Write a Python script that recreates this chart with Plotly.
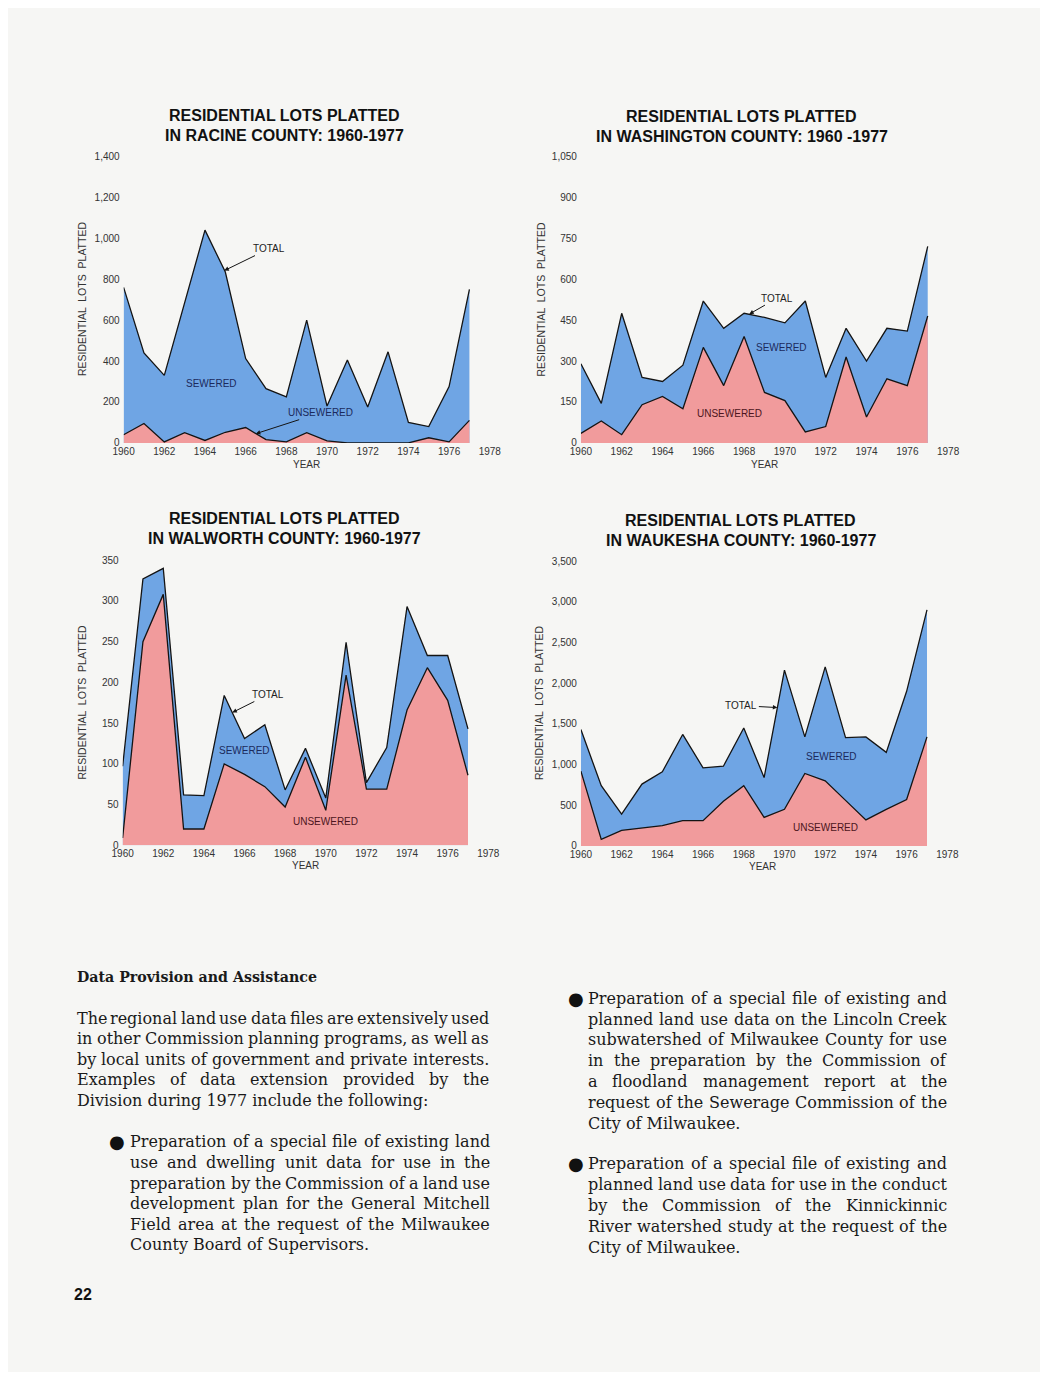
import glob
import os
import struct

import plotly.graph_objects as go

# ---------------- DATA ----------------
years = list(range(1960, 1978))
x_ticks = list(range(1960, 1979, 2))

racine_total = [760, 440, 330, 690, 1040, 835, 412, 265, 225, 600, 180, 405, 175, 445, 100, 80, 275, 750]
racine_unsewered = [40, 95, 5, 50, 12, 52, 75, 16, 5, 50, 10, 0, 0, 0, 0, 25, 5, 110]

washington_total = [290, 145, 475, 240, 225, 285, 520, 420, 475, 460, 440, 520, 240, 420, 300, 420, 410, 720]
washington_unsewered = [35, 80, 30, 140, 170, 125, 350, 210, 390, 185, 155, 40, 60, 315, 95, 235, 210, 465]

walworth_total = [97, 327, 340, 62, 61, 184, 131, 148, 68, 119, 58, 249, 77, 120, 293, 233, 233, 143]
walworth_unsewered = [9, 250, 308, 20, 20, 100, 87, 72, 47, 108, 43, 209, 69, 69, 166, 218, 178, 86]

waukesha_total = [1430, 740, 390, 760, 910, 1370, 960, 980, 1450, 840, 2160, 1340, 2200, 1330, 1340, 1150, 1900, 2900]
waukesha_unsewered = [920, 80, 190, 220, 250, 310, 310, 550, 740, 350, 450, 890, 800, 560, 320, 450, 570, 1340]

heading = "Data Provision and Assistance"
para_intro = [
    "The regional land use data files are extensively used",
    "in other Commission planning programs, as well as",
    "by local units of government and private interests.",
    "Examples of data extension provided by the",
    "Division during 1977 include the following:",
]
bullet_mitchell = [
    "Preparation of a special file of existing land",
    "use and dwelling unit data for use in the",
    "preparation by the Commission of a land use",
    "development plan for the General Mitchell",
    "Field area at the request of the Milwaukee",
    "County Board of Supervisors.",
]
bullet_lincoln = [
    "Preparation of a special file of existing and",
    "planned land use data on the Lincoln Creek",
    "subwatershed of Milwaukee County for use",
    "in the preparation by the Commission of",
    "a floodland management report at the",
    "request of the Sewerage Commission of the",
    "City of Milwaukee.",
]
bullet_kinnickinnic = [
    "Preparation of a special file of existing and",
    "planned land use data for use in the conduct",
    "by the Commission of the Kinnickinnic",
    "River watershed study at the request of the",
    "City of Milwaukee.",
]
page_number = "22"

# ---------------- PAGE GEOMETRY ----------------
# the page body has an 8px default margin; size the figure so the page is exactly 1048x1380
OFF = 8
FIG_W, FIG_H = 1048 - 2 * OFF, 1380 - 2 * OFF
BG = "#f6f6f4"
BLUE = "#6fa5e4"
PINK = "#f19b9c"
LINE = "#141414"
NAVY = "#1b2a5c"
DARKRED = "#4d1520"
SANS = "Liberation Sans, Arial, sans-serif"
SERIF = "DejaVu Serif, serif"


def fx(px):
    return (px - OFF) / FIG_W


def fy(py):
    return 1 - (py - OFF) / FIG_H


panels = [
    dict(total=racine_total, unsew=racine_unsewered, county="RACINE", dash="1960-1977",
         ymax=1400, dtick=200, x0=115, x1=489.5, ytop=151.7, ybot=440.7,
         tcx=280, t1=110, t2=131, ytx=73, yty=296, yrx=302, yry=462,
         total_tip=(1964.95, 842), total_off=(45, -22),
         sew=(1964.3, 290), unsew_lab=(1966.5, 45, 65, -21, NAVY)),
    dict(total=washington_total, unsew=washington_unsewered, county="WASHINGTON", dash="1960 -1977",
         ymax=1050, dtick=150, x0=582.7, x1=958.3, ytop=151.7, ybot=440.7,
         tcx=747, t1=111, t2=132, ytx=542, yty=296, yrx=770, yry=462,
         total_tip=(1968.25, 472), total_off=(28, -16),
         sew=(1969.85, 350), unsew_lab=(1967.3, 108, None, None, DARKRED)),
    dict(total=walworth_total, unsew=walworth_unsewered, county="WALWORTH", dash="1960-1977",
         ymax=350, dtick=50, x0=114, x1=488, ytop=559, ybot=846.7,
         tcx=280, t1=517, t2=537, ytx=72, yty=703, yrx=301, yry=867,
         total_tip=(1965.4, 163), total_off=(36, -18),
         sew=(1966.0, 116), unsew_lab=(1970.0, 29, None, None, DARKRED)),
    dict(total=waukesha_total, unsew=waukesha_unsewered, county="WAUKESHA", dash="1960-1977",
         ymax=3500, dtick=500, x0=582.7, x1=957.5, ytop=560, ybot=847.3,
         tcx=746, t1=519, t2=539, ytx=540, yty=703, yrx=768, yry=868,
         total_tip=(1969.65, 1700), total_off=(-36, -2),
         sew=(1972.3, 1100), unsew_lab=(1972.0, 223, None, None, DARKRED)),
]

fig = go.Figure()
layout = dict(
    width=FIG_W, height=FIG_H, margin=dict(l=0, r=0, t=0, b=0),
    paper_bgcolor=BG, plot_bgcolor="rgba(0,0,0,0)", showlegend=False,
)
annotations = []

for i, p in enumerate(panels, start=1):
    sfx = "" if i == 1 else str(i)
    xr, yr = "x" + sfx, "y" + sfx
    fig.add_trace(go.Scatter(x=years, y=p["total"], xaxis=xr, yaxis=yr, mode="lines",
                             fill="tozeroy", fillcolor=BLUE,
                             line=dict(color=LINE, width=1.3), hoverinfo="skip"))
    fig.add_trace(go.Scatter(x=years, y=p["unsew"], xaxis=xr, yaxis=yr, mode="lines",
                             fill="tozeroy", fillcolor=PINK,
                             line=dict(color=LINE, width=1.3), hoverinfo="skip"))
    layout["xaxis" + sfx] = dict(
        domain=[fx(p["x0"]), fx(p["x1"])], range=[1960, 1978], anchor=yr,
        tickmode="array", tickvals=x_ticks, ticktext=[str(t) for t in x_ticks],
        showgrid=False, zeroline=False, showline=False, ticks="", ticklabelstandoff=1,
        tickfont=dict(family=SANS, size=10, color="#333"), fixedrange=True)
    layout["yaxis" + sfx] = dict(
        domain=[fy(p["ybot"]), fy(p["ytop"])], range=[0, p["ymax"]], anchor=xr,
        tickmode="linear", tick0=0, dtick=p["dtick"], tickformat=",",
        showgrid=False, zeroline=False, showline=False, ticks="", ticklabelstandoff=3,
        tickfont=dict(family=SANS, size=10, color="#333"), fixedrange=True)

    annotations.append(dict(x=fx(p["tcx"]), y=fy(p["t1"]), xref="paper", yref="paper",
                            text="<b>RESIDENTIAL LOTS PLATTED</b>", showarrow=False,
                            font=dict(family=SANS, size=16, color="#111"),
                            xanchor="center", yanchor="middle"))
    annotations.append(dict(x=fx(p["tcx"]), y=fy(p["t2"]), xref="paper", yref="paper",
                            text="<b>IN %s COUNTY: %s</b>" % (p["county"], p["dash"]),
                            showarrow=False, font=dict(family=SANS, size=16, color="#111"),
                            xanchor="center", yanchor="middle"))
    annotations.append(dict(x=fx(p["ytx"]), y=fy(p["yty"]), xref="paper", yref="paper",
                            text="RESIDENTIAL  LOTS  PLATTED", textangle=-90, showarrow=False,
                            font=dict(family=SANS, size=10.5, color="#333"),
                            xanchor="center", yanchor="middle"))
    annotations.append(dict(x=fx(p["yrx"]), y=fy(p["yry"]), xref="paper", yref="paper",
                            text="YEAR", showarrow=False,
                            font=dict(family=SANS, size=10, color="#333"),
                            xanchor="center", yanchor="middle"))
    tx, ty = p["total_tip"]
    ax, ay = p["total_off"]
    annotations.append(dict(x=tx, y=ty, xref=xr, yref=yr, text="TOTAL", showarrow=True,
                            ax=ax, ay=ay, arrowhead=2, arrowsize=0.9, arrowwidth=1,
                            arrowcolor=LINE, font=dict(family=SANS, size=10, color="#222")))
    sx, sy = p["sew"]
    annotations.append(dict(x=sx, y=sy, xref=xr, yref=yr, text="SEWERED", showarrow=False,
                            font=dict(family=SANS, size=10, color=NAVY)))
    ux, uy, uax, uay, ucol = p["unsew_lab"]
    if uax is None:
        annotations.append(dict(x=ux, y=uy, xref=xr, yref=yr, text="UNSEWERED", showarrow=False,
                                font=dict(family=SANS, size=10, color=ucol)))
    else:
        annotations.append(dict(x=ux, y=uy, xref=xr, yref=yr, text="UNSEWERED", showarrow=True,
                                ax=uax, ay=uay, arrowhead=2, arrowsize=0.9, arrowwidth=1,
                                arrowcolor=LINE, font=dict(family=SANS, size=10, color=ucol)))


# ---------------- FONT METRICS (for justified body text) ----------------
FALLBACK = {' ': 318, 'a': 596, 'b': 640, 'c': 560, 'd': 640, 'e': 592, 'f': 370, 'g': 640, 'h': 644,
            'i': 320, 'j': 310, 'k': 606, 'l': 320, 'm': 948, 'n': 644, 'o': 602, 'p': 640, 'q': 640,
            'r': 478, 's': 513, 't': 402, 'u': 644, 'v': 565, 'w': 856, 'x': 564, 'y': 565, 'z': 527,
            'A': 722, 'B': 735, 'C': 765, 'D': 802, 'E': 730, 'F': 694, 'G': 799, 'H': 872, 'I': 395,
            'J': 401, 'K': 747, 'L': 664, 'M': 1024, 'N': 875, 'O': 820, 'P': 673, 'Q': 820, 'R': 753,
            'S': 685, 'T': 667, 'U': 843, 'V': 722, 'W': 1028, 'X': 712, 'Y': 660, 'Z': 695,
            ',': 318, '.': 318, ':': 337, ';': 337, '-': 338}
FALLBACK = {k: v / 1000.0 for k, v in FALLBACK.items()}
for d in "0123456789":
    FALLBACK[d] = 0.636


def load_widths(path):
    data = open(path, "rb").read()
    ntab = struct.unpack(">H", data[4:6])[0]
    tabs = {}
    for k in range(ntab):
        tag, _, off, ln = struct.unpack(">4sIII", data[12 + 16 * k:28 + 16 * k])
        tabs[tag.decode("latin1")] = off
    upem = struct.unpack(">H", data[tabs["head"] + 18:tabs["head"] + 20])[0]
    nhm = struct.unpack(">H", data[tabs["hhea"] + 34:tabs["hhea"] + 36])[0]
    hm = tabs["hmtx"]
    adv = [struct.unpack(">H", data[hm + 4 * k:hm + 4 * k + 2])[0] for k in range(nhm)]
    cm = tabs["cmap"]
    nsub = struct.unpack(">H", data[cm + 2:cm + 4])[0]
    sub = None
    for k in range(nsub):
        pid, eid, off = struct.unpack(">HHI", data[cm + 4 + 8 * k:cm + 12 + 8 * k])
        s = cm + off
        if struct.unpack(">H", data[s:s + 2])[0] == 4 and pid in (0, 3):
            sub = s
            break
    segx2 = struct.unpack(">H", data[sub + 6:sub + 8])[0]
    seg = segx2 // 2
    ends = struct.unpack(">%dH" % seg, data[sub + 14:sub + 14 + segx2])
    starts = struct.unpack(">%dH" % seg, data[sub + 16 + segx2:sub + 16 + 2 * segx2])
    deltas = struct.unpack(">%dh" % seg, data[sub + 16 + 2 * segx2:sub + 16 + 3 * segx2])
    rpos = sub + 16 + 3 * segx2
    roffs = struct.unpack(">%dH" % seg, data[rpos:rpos + segx2])

    def gid(c):
        for k in range(seg):
            if starts[k] <= c <= ends[k]:
                if roffs[k] == 0:
                    return (c + deltas[k]) & 0xFFFF
                pp = rpos + 2 * k + roffs[k] + 2 * (c - starts[k])
                g = struct.unpack(">H", data[pp:pp + 2])[0]
                return (g + deltas[k]) & 0xFFFF if g else 0
        return 0

    out = {}
    for c in range(32, 127):
        g = gid(c)
        out[chr(c)] = adv[min(g, nhm - 1)] / float(upem)
    return out


METRICS = FALLBACK
try:
    cands = []
    for root in ["/usr/share/fonts", "/usr/local/share/fonts", os.path.expanduser("~/.fonts")]:
        cands += glob.glob(os.path.join(root, "**", "DejaVuSerif.ttf"), recursive=True)
    if cands:
        METRICS = load_widths(cands[0])
except Exception:
    METRICS = FALLBACK

BODY_SIZE = 16
BODY_COLOR = "#1a1a1a"
RENDER_SCALE = 1.023   # rendered glyph advances run slightly wider than the nominal metrics


def word_w(s, size=BODY_SIZE):
    return sum(METRICS.get(c, 0.6) for c in s) * size * RENDER_SCALE


def add_text(s, xpx, ypx, anchor="left", size=BODY_SIZE, bold=False):
    annotations.append(dict(x=fx(xpx), y=fy(ypx), xref="paper", yref="paper",
                            text=("<b>%s</b>" % s) if bold else s, showarrow=False,
                            xanchor=anchor, yanchor="middle", borderpad=0, borderwidth=0,
                            font=dict(family=SERIF, size=size, color=BODY_COLOR)))


def add_paragraph(lines, xl, xr, y0, dy):
    space = word_w(" ")
    for k, line in enumerate(lines):
        y = y0 + k * dy
        words = line.split()
        if k == len(lines) - 1 or len(words) < 2:
            add_text(line, xl, y)
            continue
        widths = [word_w(w) for w in words]
        gap = (xr - xl - sum(widths)) / (len(words) - 1)
        if gap < 0.5 * space:
            add_text(line, xl, y)
            continue
        xpos = xl
        for j, w in enumerate(words):
            if j == len(words) - 1:
                add_text(w, xr, y, anchor="right")
            else:
                add_text(w, xpos, y)
            xpos += widths[j] + gap


def add_bullet(xc, ypx):
    annotations.append(dict(x=fx(xc), y=fy(ypx), xref="paper", yref="paper", text="●",
                            showarrow=False, xanchor="center", yanchor="middle",
                            font=dict(family="DejaVu Sans", size=18, color="#111")))


add_text(heading, 67, 980, size=14.2, bold=True)
add_paragraph(para_intro, 67, 489, 1021, 20.7)
add_bullet(108, 1146)
add_paragraph(bullet_mitchell, 122, 490, 1146, 20.7)
add_bullet(578, 1001)
add_paragraph(bullet_lincoln, 590, 957, 1001, 21.0)
add_bullet(578, 1168)
add_paragraph(bullet_kinnickinnic, 590, 957, 1168, 21.0)

annotations.append(dict(x=fx(73), y=fy(1300), xref="paper", yref="paper", text="<b>%s</b>" % page_number,
                        showarrow=False, xanchor="center", yanchor="middle",
                        font=dict(family=SANS, size=16, color="#111")))

layout["annotations"] = annotations
fig.update_layout(**layout)
fig.write_html("out.html")
